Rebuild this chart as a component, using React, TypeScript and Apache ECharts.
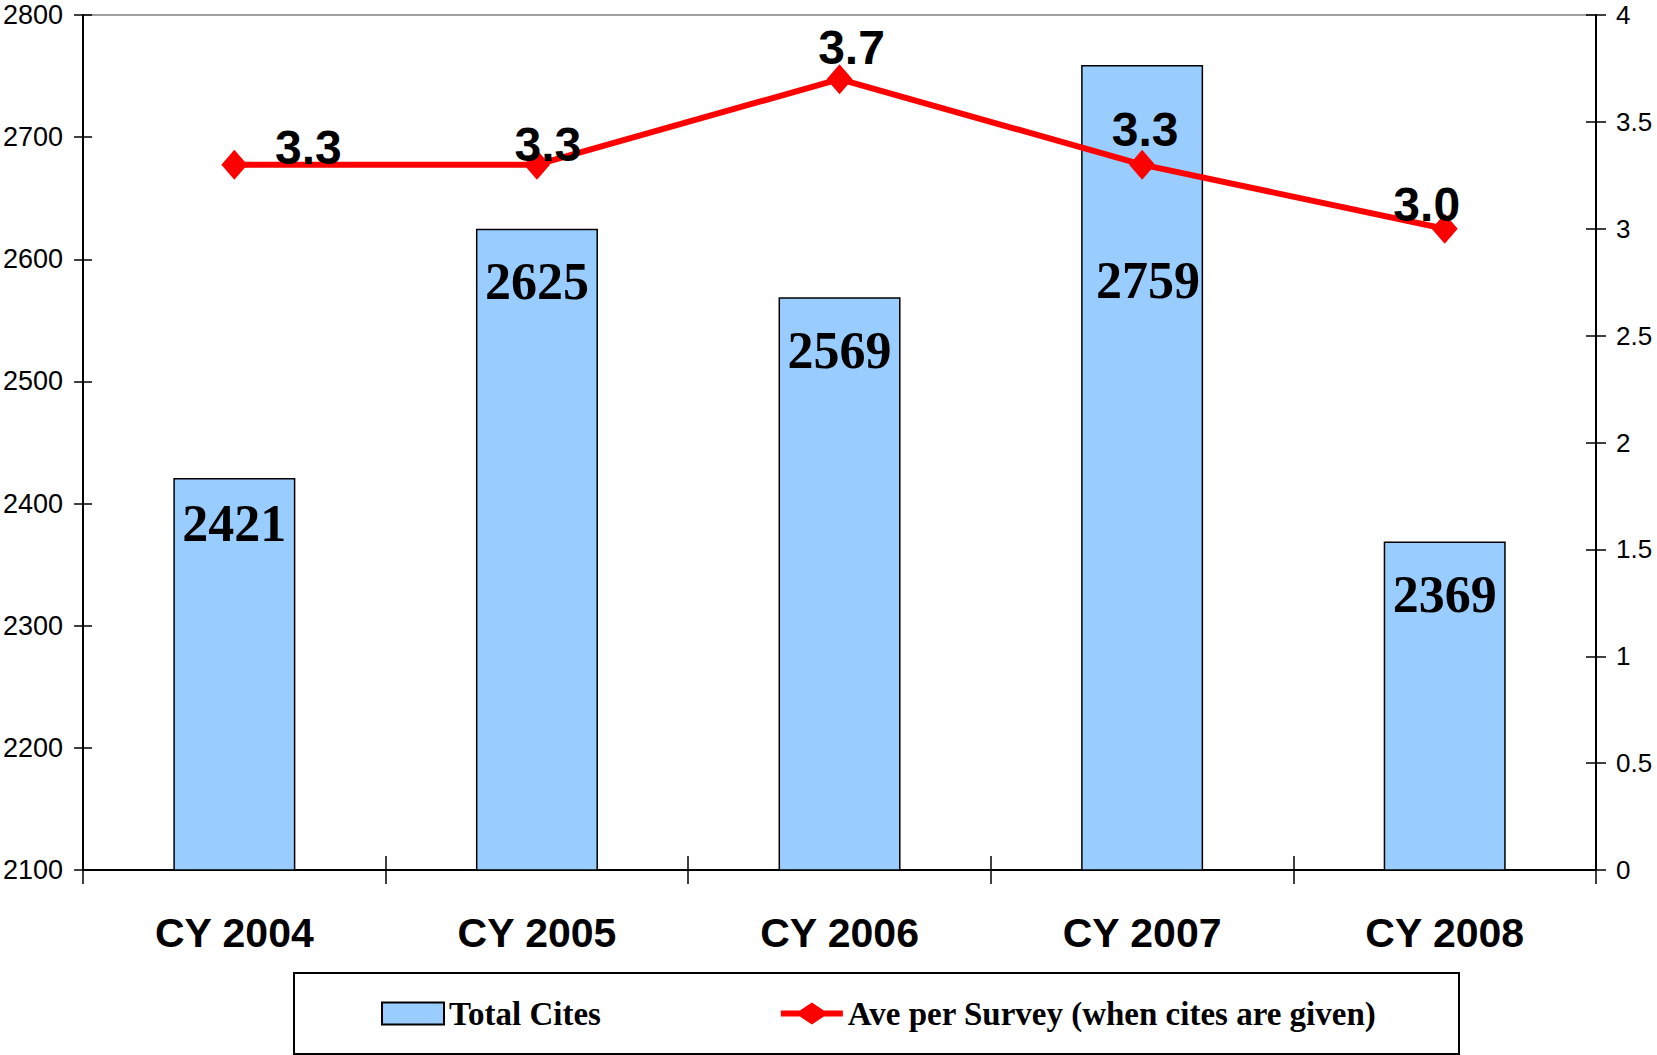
import React, { useEffect, useRef } from "react";
import * as echarts from "echarts";

const categories = ["CY 2004", "CY 2005", "CY 2006", "CY 2007", "CY 2008"];
const totalCites = [2421, 2625, 2569, 2759, 2369];
const avePerSurvey = [3.3, 3.3, 3.7, 3.3, 3.0];

const leftMin = 2100;
const leftMax = 2800;
const leftInterval = 100;
const rightMin = 0;
const rightMax = 4;
const rightInterval = 0.5;

// label placement (layout only)
const barLabelDy = [46, 53, 53, 215, 53];
const barLabelDx = [0, 0, 0, 6, 0];
const lineLabelOffset: [number, number][] = [
  [74, -17],
  [11, -20],
  [12, -32],
  [3, -35],
  [-18, -24],
];

const SANS = "'Liberation Sans', Arial, sans-serif";
const SERIF = "'Liberation Serif', 'Times New Roman', serif";

const LINE_LEGEND_ICON =
  "path://M0 8 L19 8 L31 0 L43 8 L62 8 L62 14 L43 14 L31 22 L19 14 L0 14 Z";

export default function App() {
  const ref = useRef<HTMLDivElement>(null);

  useEffect(() => {
    if (!ref.current) return;
    const chart = echarts.init(ref.current, null, { renderer: "svg" });

    const option: any = {
      animation: false,
      backgroundColor: "#ffffff",
      grid: {
        left: 83,
        right: 61,
        top: 15,
        bottom: 185,
        show: true,
        borderColor: "#808080",
        borderWidth: 1.5,
        backgroundColor: "transparent",
      },
      legend: {
        left: 381,
        top: 997,
        itemWidth: 62,
        itemHeight: 22,
        itemGap: 180,
        padding: 0,
        symbolKeepAspect: false,
        textStyle: {
          fontFamily: SERIF,
          fontWeight: "bold",
          fontSize: 33,
          color: "#000",
        },
        data: [
          { name: "Total Cites", icon: "rect" },
          { name: "Ave per Survey (when cites are given)", icon: LINE_LEGEND_ICON },
        ],
      },
      graphic: [
        {
          type: "rect",
          shape: { x: 294, y: 973, width: 1165, height: 81 },
          style: { fill: "none", stroke: "#000", lineWidth: 2 },
          silent: true,
        },
      ],
      xAxis: [
        {
          type: "category",
          data: categories,
          position: "bottom",
          boundaryGap: true,
          axisLine: { lineStyle: { color: "#000", width: 2 } },
          axisTick: { show: true, length: 14, lineStyle: { color: "#000", width: 1.5 } },
          axisLabel: {
            margin: 42,
            fontFamily: SANS,
            fontWeight: "bold",
            fontSize: 41,
            color: "#000",
          },
          splitLine: { show: false },
        },
        {
          type: "category",
          data: categories,
          position: "bottom",
          boundaryGap: true,
          axisLine: { show: false },
          axisTick: { show: true, inside: true, length: 14, lineStyle: { color: "#000", width: 1.5 } },
          axisLabel: { show: false },
          splitLine: { show: false },
        },
      ],
      yAxis: [
        {
          type: "value",
          position: "left",
          min: leftMin,
          max: leftMax,
          interval: leftInterval,
          axisLine: { show: true, lineStyle: { color: "#000", width: 2 } },
          axisTick: { show: true, length: 9, lineStyle: { color: "#000", width: 1.5 } },
          axisLabel: {
            margin: 20,
            fontFamily: SANS,
            fontSize: 27,
            color: "#000",
            formatter: (v: number) => String(v),
          },
          splitLine: { show: false },
        },
        {
          type: "value",
          position: "right",
          min: rightMin,
          max: rightMax,
          interval: rightInterval,
          axisLine: { show: true, lineStyle: { color: "#000", width: 2 } },
          axisTick: { show: true, length: 10, lineStyle: { color: "#000", width: 1.5 } },
          axisLabel: {
            margin: 20,
            fontFamily: SANS,
            fontSize: 26,
            color: "#000",
            formatter: (v: number) => String(v),
          },
          splitLine: { show: false },
        },
        {
          type: "value",
          position: "left",
          min: leftMin,
          max: leftMax,
          interval: leftInterval,
          axisLine: { show: false },
          axisTick: { show: true, inside: true, length: 9, lineStyle: { color: "#000", width: 1.5 } },
          axisLabel: { show: false },
          splitLine: { show: false },
        },
        {
          type: "value",
          position: "right",
          min: rightMin,
          max: rightMax,
          interval: rightInterval,
          axisLine: { show: false },
          axisTick: { show: true, inside: true, length: 10, lineStyle: { color: "#000", width: 1.5 } },
          axisLabel: { show: false },
          splitLine: { show: false },
        },
      ],
      series: [
        {
          name: "Total Cites",
          type: "bar",
          xAxisIndex: 0,
          yAxisIndex: 0,
          barWidth: 122,
          itemStyle: { color: "#99CCFF", borderColor: "#000", borderWidth: 1.5 },
          data: totalCites.map((v, i) => ({
            value: v,
            label: {
              show: true,
              position: ["50%", barLabelDy[i]],
              offset: [barLabelDx[i], 0],
              align: "center",
              verticalAlign: "middle",
              fontFamily: SERIF,
              fontWeight: "bold",
              fontSize: 52,
              color: "#000",
            },
          })),
        },
        {
          name: "Ave per Survey (when cites are given)",
          type: "line",
          xAxisIndex: 0,
          yAxisIndex: 1,
          symbol: "diamond",
          symbolSize: [26, 30],
          lineStyle: { color: "#FF0000", width: 6 },
          itemStyle: { color: "#FF0000" },
          z: 3,
          data: avePerSurvey.map((v, i) => ({
            value: v,
            label: {
              show: true,
              position: "inside",
              offset: lineLabelOffset[i],
              formatter: (p: any) => Number(p.value).toFixed(1),
              fontFamily: SANS,
              fontWeight: "bold",
              fontSize: 48,
              color: "#000",
            },
          })),
        },
      ],
    };

    chart.setOption(option);
    return () => chart.dispose();
  }, []);

  return (
    <div
      ref={ref}
      style={{ position: "absolute", left: 0, top: 0, width: 1657, height: 1055 }}
    />
  );
}
